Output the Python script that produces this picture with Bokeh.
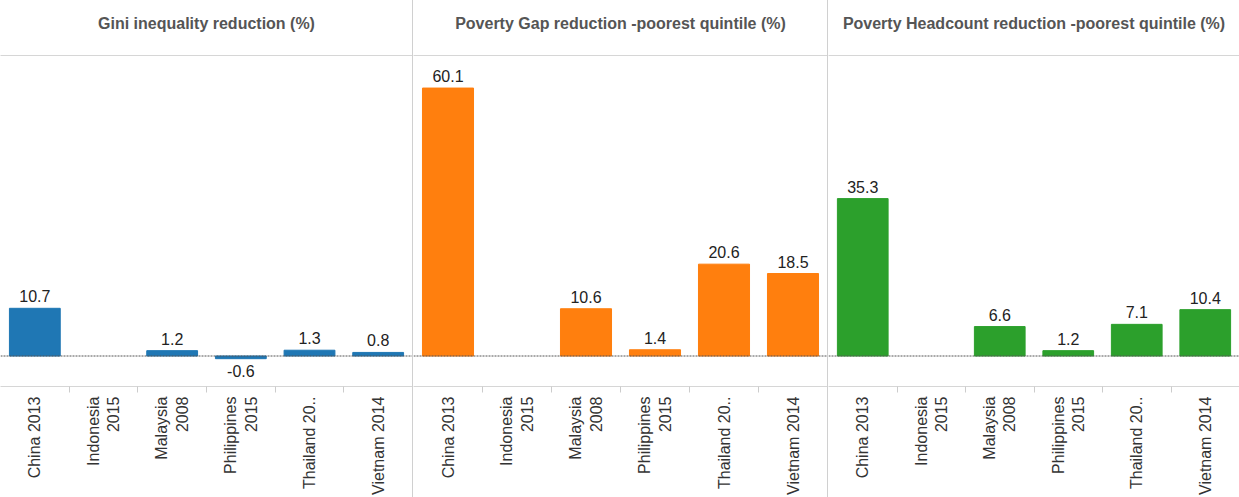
import math
from bokeh.plotting import figure
from bokeh.models import ColumnDataSource, FixedTicker, LinearAxis, Span, Range1d, Spacer
from bokeh.layouts import row
from bokeh.embed import file_html
from bokeh.resources import INLINE
from bokeh.core.properties import value

nan = float("nan")

categories = ["China 2013", "Indonesia\n2015", "Malaysia\n2008", "Philippines\n2015", "Thailand 20..", "Vietnam 2014"]
titles = ["Gini inequality reduction (%)",
          "Poverty Gap reduction -poorest quintile (%)",
          "Poverty Headcount reduction -poorest quintile (%)"]
gini = [10.7, nan, 1.2, -0.6, 1.3, 0.8]
poverty_gap = [60.1, nan, 10.6, 1.4, 20.6, 18.5]
poverty_headcount = [35.3, nan, 6.6, 1.2, 7.1, 10.4]
colors = ["#1f77b4", "#ff7f0e", "#2ca02c"]

FONT = "Liberation Sans"
H = 497


def panel(title, vals, color, width):
    p = figure(width=width, height=H, output_backend="svg", toolbar_location=None,
               x_range=Range1d(0, len(categories)), y_range=Range1d(-6.84, 67.4),
               y_axis_location=None, min_border_left=0, min_border_right=0,
               min_border_top=55, min_border_bottom=100, outline_line_color=None,
               background_fill_color="white", border_fill_color="white")
    p.xgrid.visible = False
    p.ygrid.visible = False

    xs = [i + 0.5 for i in range(len(categories))]
    src = ColumnDataSource(dict(x=xs, v=vals))
    p.vbar(x="x", top="v", bottom=0, width=0.74, source=src,
           fill_color=color, line_color=color)

    p.add_layout(Span(location=0, dimension="width", line_color="#555555",
                      line_dash="2 1", line_width=1))

    pos = [(x, v) for x, v in zip(xs, vals) if v == v and v >= 0]
    neg = [(x, v) for x, v in zip(xs, vals) if v == v and v < 0]
    if pos:
        s = ColumnDataSource(dict(x=[a for a, _ in pos], y=[b for _, b in pos],
                                  t=[f"{b:.1f}" for _, b in pos]))
        p.text(x="x", y="y", text="t", source=s, text_align="center",
               text_baseline="bottom", y_offset=-6, text_font=value(FONT),
               text_font_size="16px", text_color="#222222")
    if neg:
        s = ColumnDataSource(dict(x=[a for a, _ in neg], y=[b for _, b in neg],
                                  t=[f"{b:.1f}" for _, b in neg]))
        p.text(x="x", y="y", text="t", source=s, text_align="center",
               text_baseline="top", y_offset=6, text_font=value(FONT),
               text_font_size="16px", text_color="#222222")

    xa = p.xaxis[0]
    xa.ticker = FixedTicker(ticks=xs, minor_ticks=[i for i in range(1, len(categories))])
    xa.major_label_overrides = {x: c for x, c in zip(xs, categories)}
    xa.major_label_orientation = math.pi / 2
    xa.major_label_text_align = "right"
    xa.major_label_text_font = FONT
    xa.major_label_text_font_size = "16px"
    xa.major_label_text_color = "#333333"
    xa.major_label_standoff = 4
    xa.major_tick_line_color = None
    xa.major_tick_out = 0
    xa.major_tick_in = 0
    xa.minor_tick_line_color = "#cccccc"
    xa.minor_tick_out = 6
    xa.minor_tick_in = 0
    xa.axis_line_color = "#d6d6d6"

    top = LinearAxis(ticker=FixedTicker(ticks=[]), axis_label=title)
    top.axis_label_standoff = 24
    top.axis_label_text_font = FONT
    top.axis_label_text_font_size = "16px"
    top.axis_label_text_font_style = "bold"
    top.axis_label_text_color = "#555555"
    top.major_tick_line_color = None
    top.minor_tick_line_color = None
    top.major_label_text_font_size = "0px"
    top.major_tick_out = 0
    top.minor_tick_out = 0
    top.major_label_standoff = 0
    top.axis_line_color = "#d6d6d6"
    p.add_layout(top, "above")
    return p


p1 = panel(titles[0], gini, colors[0], 412)
p2 = panel(titles[1], poverty_gap, colors[1], 414)
p3 = panel(titles[2], poverty_headcount, colors[2], 411)

sep1 = Spacer(width=1, height=H, styles={"background-color": "#d0d0d0"})
sep2 = Spacer(width=1, height=H, styles={"background-color": "#d0d0d0"})

layout = row(p1, sep1, p2, sep2, p3)
open("out.html", "w").write(file_html(layout, INLINE))
